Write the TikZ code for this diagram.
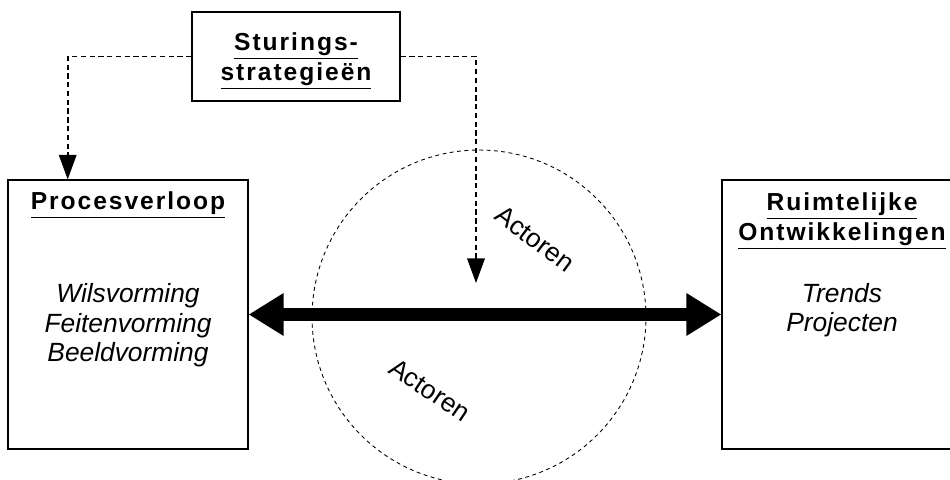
\documentclass[tikz,border=0pt]{standalone}
\usepackage{fontspec}
\setmainfont{Liberation Sans}
\newfontfamily\titelfont[LetterSpace=8]{Liberation Sans}
\usetikzlibrary{calc, arrows.meta, positioning}
\tikzset{
  kader/.style = {rectangle, draw=black, line width=0.7pt,
                  minimum width=4.8cm, minimum height=5.38cm, inner sep=0pt},
  titel/.style = {font=\titelfont\bfseries\fontsize{14}{17}\selectfont,
                  align=center, inner sep=0pt, anchor=base},
  inhoud/.style = {font=\itshape\fontsize{15}{17}\selectfont,
                   align=center, inner sep=0pt, anchor=base},
  actor/.style = {font=\fontsize{15}{17}\selectfont, inner sep=0pt},
  stuurpijl/.style = {-{Triangle[length=14pt, width=10pt]}, line width=1pt,
                      dash pattern=on 3pt off 2pt},
  hoofdpijl/.style = {{Triangle[length=20pt, width=23pt]}-{Triangle[length=20pt, width=23pt]},
                      line width=7.4pt},
}

\begin{document}
\begin{tikzpicture}[x=0.02cm, y=0.02cm]
  \useasboundingbox (0,0) rectangle (950,480);

  % cirkel
  \node (kring) [circle, draw, line width=0.5pt, dash pattern=on 2.2pt off 2pt,
                 minimum size=6.68cm, inner sep=0pt] at (479,163) {};

  % kaders
  \node (sturing) [kader, minimum width=4.16cm, minimum height=1.78cm] at (296,423.5) {};
  \node (proces) [kader] at (128,165.5) {};
  \node (ruimte) [kader] at (842,165.5) {};

  % titels en inhoud (anchor base = laatste regel)
  \node (sturingtitel) [titel] at ($(sturing.north)+(0,-69)$) {\underline{Sturings-}\\\underline{strategieën}};
  \node (procestitel) [titel] at ($(proces.north)+(0,-30)$) {\underline{Procesverloop}};
  \node (ruimtetitel) [titel] at ($(ruimte.north)+(0,-61)$) {\underline{Ruimtelijke}\\\underline{Ontwikkelingen}};
  \node (procesinhoud) [inhoud] at ($(proces.north)+(0,-182.5)$) {Wilsvorming\\Feitenvorming\\Beeldvorming};
  \node (ruimteinhoud) [inhoud] at ($(ruimte.north)+(0,-152.5)$) {Trends\\Projecten};

  \node (actorboven) [actor, rotate=-37] at (535,241) {Actoren};
  \node (actoronder) [actor, rotate=-34] at (430,90) {Actoren};

  % verbindingen
  \coordinate (procesin) at ($(proces.north west)!0.25!(proces.north east)$);
  \coordinate (actorin) at (476,197);
  \draw[stuurpijl] (sturing.west) -| (procesin);
  \draw[stuurpijl] (sturing.east) -| (actorin);
  \draw[hoofdpijl] (proces) -- (ruimte);

\end{tikzpicture}
\end{document}
